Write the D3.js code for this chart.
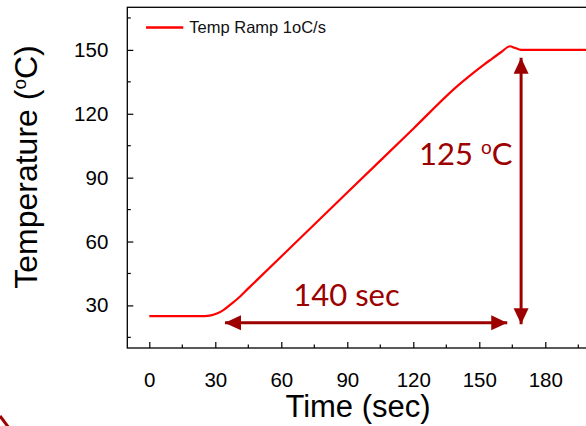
<!DOCTYPE html>
<html>
<head>
<meta charset="utf-8">
<script src="https://d3js.org/d3.v7.min.js"></script>
<style>
  body { margin: 0; background: #fff; }
  svg { display: block; font-family: "Liberation Sans", Arial, sans-serif; }
</style>
</head>
<body>
<div id="chart"></div>
<script>
// data
let timeSec = [0, 25, 28, 31, 34, 37, 40, 45, 60, 90, 120, 140, 147, 152, 156, 160, 164, 166, 169, 185, 210];
let tempC   = [25, 25, 25.3, 26.3, 28, 30.5, 33, 38, 53, 83, 113, 133, 139, 143, 146, 149, 151.7, 151, 150, 150, 150];
let xTicks = [0, 30, 60, 90, 120, 150, 180];
let yTicks = [30, 60, 90, 120, 150];
let seriesName = "Temp Ramp 1oC/s";

// annotation arrows in data units
let spanTime = [34.4, 162.7];   // horizontal arrow, "140 sec"
let spanTimeAt = 21.8;
let spanTemp = [21.2, 146.3];   // vertical arrow, "125 oC"
let spanTempAt = 169;

let svgWidth = 586;
let svgHeight = 426;
let margin = { top: 7.3, left: 127.3, bottom: 78 };

let annoColor = "#9c0000";

let svg = d3.select("#chart")
  .append("svg")
  .attr("width", svgWidth)
  .attr("height", svgHeight);

// x: 2.2px per sec, runs past the right edge like the original
let x = d3.scaleLinear()
  .domain([-10, 210])
  .range([margin.left, margin.left + 220 * 2.2]);
let y = d3.scaleLinear()
  .domain([10, 170])
  .range([svgHeight - margin.bottom, margin.top]);

let data = timeSec.map((t, i) => ({ t: t, v: tempC[i] }));

// frame
svg.append("rect")
  .attr("x", x(-10))
  .attr("y", y(170))
  .attr("width", x(210) - x(-10))
  .attr("height", y(10) - y(170))
  .attr("fill", "none")
  .attr("stroke", "#000")
  .attr("stroke-width", 1.3);

// axes with inward ticks
let xAxis = svg.append("g")
  .attr("transform", `translate(0,${y(10)})`)
  .call(d3.axisBottom(x).tickValues(xTicks).tickSize(-6).tickPadding(24).tickFormat(d3.format("d")));
let yAxis = svg.append("g")
  .attr("transform", `translate(${x(-10)},0)`)
  .call(d3.axisLeft(y).tickValues(yTicks).tickSize(-6).tickPadding(19));

[xAxis, yAxis].forEach(g => {
  g.select(".domain").remove();
  g.selectAll("line").attr("stroke", "#000").attr("stroke-width", 1.2);
  g.selectAll("text")
    .attr("fill", "#000")
    .style("font-size", "20.5px")
    .style("font-family", "'Liberation Sans', Arial, sans-serif");
});

// minor ticks
let xMinor = d3.range(15, 210, 30);
let yMinor = d3.range(15, 170, 30);
svg.append("g").selectAll("line")
  .data(xMinor)
  .enter()
  .append("line")
  .attr("x1", d => x(d)).attr("x2", d => x(d))
  .attr("y1", y(10)).attr("y2", y(10) - 3.5)
  .attr("stroke", "#000").attr("stroke-width", 1.2);
svg.append("g").selectAll("line")
  .data(yMinor)
  .enter()
  .append("line")
  .attr("x1", x(-10)).attr("x2", x(-10) + 3.5)
  .attr("y1", d => y(d)).attr("y2", d => y(d))
  .attr("stroke", "#000").attr("stroke-width", 1.2);

// axis titles
svg.append("text")
  .attr("x", 358)
  .attr("y", 416.5)
  .attr("text-anchor", "middle")
  .style("font-size", "31px")
  .text("Time (sec)");

let yTitle = svg.append("text")
  .attr("transform", "translate(36.5,167) rotate(-90)")
  .attr("text-anchor", "middle")
  .style("font-size", "32px");
yTitle.append("tspan").text("Temperature (");
yTitle.append("tspan").attr("dy", -11).style("font-size", "19px").text("o");
yTitle.append("tspan").attr("dy", 11).text("C)");

// the curve
let line = d3.line()
  .x(d => x(d.t))
  .y(d => y(d.v))
  .curve(d3.curveMonotoneX);

svg.append("path")
  .datum(data)
  .attr("d", line)
  .attr("fill", "none")
  .attr("stroke", "#ff0000")
  .attr("stroke-width", 2.2);

// legend
svg.append("line")
  .attr("x1", 146).attr("x2", 183.3)
  .attr("y1", 27.5).attr("y2", 27.5)
  .attr("stroke", "#ff0000")
  .attr("stroke-width", 2.5);
svg.append("text")
  .attr("x", 189.3)
  .attr("y", 32.8)
  .style("font-size", "16.5px")
  .attr("fill", "#111")
  .text(seriesName);

// arrowheads
let defs = svg.append("defs");
defs.append("marker")
  .attr("id", "head")
  .attr("viewBox", "0 0 16 16")
  .attr("refX", 16).attr("refY", 8)
  .attr("markerWidth", 16).attr("markerHeight", 16)
  .attr("markerUnits", "userSpaceOnUse")
  .attr("orient", "auto-start-reverse")
  .append("path")
  .attr("d", "M0,0.5 L16,8 L0,15.5 Z")
  .attr("fill", annoColor);

svg.append("line")
  .attr("x1", x(spanTime[0])).attr("x2", x(spanTime[1]))
  .attr("y1", y(spanTimeAt)).attr("y2", y(spanTimeAt))
  .attr("stroke", annoColor)
  .attr("stroke-width", 3)
  .attr("marker-start", "url(#head)")
  .attr("marker-end", "url(#head)");

svg.append("line")
  .attr("x1", x(spanTempAt)).attr("x2", x(spanTempAt))
  .attr("y1", y(spanTemp[0])).attr("y2", y(spanTemp[1]))
  .attr("stroke", annoColor)
  .attr("stroke-width", 3)
  .attr("marker-start", "url(#head)")
  .attr("marker-end", "url(#head)");

svg.append("text")
  .attr("x", 293.3)
  .attr("y", 306)
  .attr("fill", annoColor)
  .style("font-family", "Lato, 'Open Sans', sans-serif")
  .style("font-size", "31px")
  .text("140 sec");

let tempLabel = svg.append("text")
  .attr("x", 419)
  .attr("y", 165)
  .attr("fill", annoColor)
  .style("font-family", "Lato, 'Open Sans', sans-serif")
  .style("font-size", "31px");
tempLabel.append("tspan").text("125 ");
tempLabel.append("tspan").attr("dy", -11).style("font-size", "19px").text("o");
tempLabel.append("tspan").attr("dy", 11).text("C");

// bit of slide decoration in the corner
svg.append("path")
  .attr("d", "M0,416 L9,428")
  .attr("stroke", "#a00000")
  .attr("stroke-width", 3)
  .attr("fill", "none");
</script>
</body>
</html>
